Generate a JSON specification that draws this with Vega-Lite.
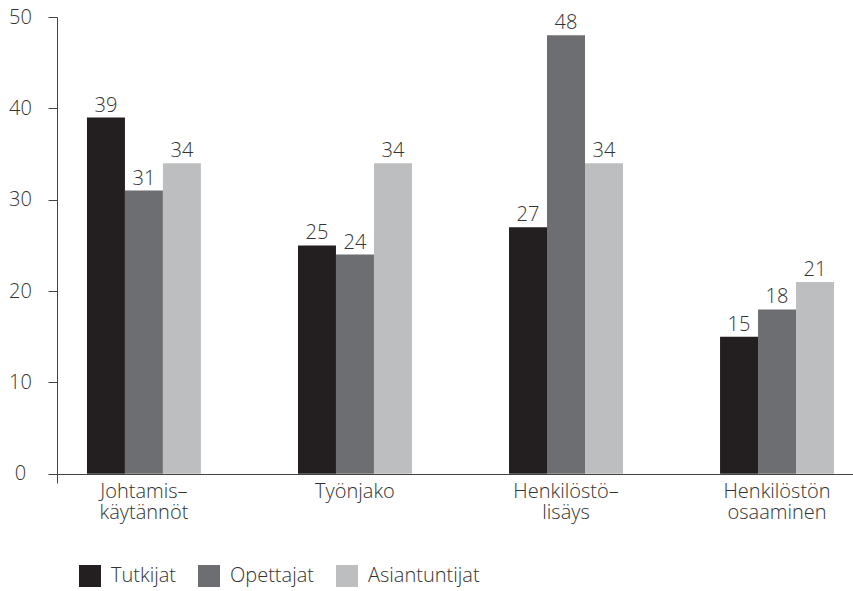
{
  "$schema": "https://vega.github.io/schema/vega-lite/v6.json",
  "width": 796,
  "height": 466,
  "autosize": {"type": "none"},
  "padding": {"left": 57, "top": 17, "right": 0, "bottom": 108},
  "background": "white",
  "config": {
    "font": "Open Sans",
    "view": {"stroke": null},
    "axis": {"labelFont": "Open Sans", "labelFontWeight": 300, "labelColor": "#333333", "labelFontSize": 20}
  },
  "data": {
    "values": [
      {"kategoria": "Johtamis–käytännöt", "ryhmä": "Tutkijat", "arvo": 39},
      {"kategoria": "Johtamis–käytännöt", "ryhmä": "Opettajat", "arvo": 31},
      {"kategoria": "Johtamis–käytännöt", "ryhmä": "Asiantuntijat", "arvo": 34},
      {"kategoria": "Työnjako", "ryhmä": "Tutkijat", "arvo": 25},
      {"kategoria": "Työnjako", "ryhmä": "Opettajat", "arvo": 24},
      {"kategoria": "Työnjako", "ryhmä": "Asiantuntijat", "arvo": 34},
      {"kategoria": "Henkilöstö–lisäys", "ryhmä": "Tutkijat", "arvo": 27},
      {"kategoria": "Henkilöstö–lisäys", "ryhmä": "Opettajat", "arvo": 48},
      {"kategoria": "Henkilöstö–lisäys", "ryhmä": "Asiantuntijat", "arvo": 34},
      {"kategoria": "Henkilöstön osaaminen", "ryhmä": "Tutkijat", "arvo": 15},
      {"kategoria": "Henkilöstön osaaminen", "ryhmä": "Opettajat", "arvo": 18},
      {"kategoria": "Henkilöstön osaaminen", "ryhmä": "Asiantuntijat", "arvo": 21}
    ]
  },
  "encoding": {
    "x": {
      "field": "kategoria",
      "type": "nominal",
      "sort": null,
      "scale": {"paddingInner": 0.46, "paddingOuter": 0.116, "align": 0.612},
      "axis": {
        "title": null,
        "orient": "bottom",
        "offset": -9,
        "ticks": false,
        "domainColor": "#444444",
        "domainWidth": 1,
        "labelAngle": 0,
        "labelBaseline": "top",
        "labelPadding": 7,
        "labelLineHeight": 21,
        "labelExpr": "split(replace(replace(datum.label, '–', '–|'), ' ', '|'), '|')"
      }
    },
    "xOffset": {
      "field": "ryhmä",
      "type": "nominal",
      "sort": ["Tutkijat", "Opettajat", "Asiantuntijat"],
      "scale": {"paddingInner": 0, "paddingOuter": 0}
    },
    "y": {
      "field": "arvo",
      "type": "quantitative",
      "scale": {"domain": [-1, 50], "nice": false, "zero": false},
      "axis": {
        "title": null,
        "values": [0, 10, 20, 30, 40, 50],
        "grid": false,
        "tickSize": 9,
        "tickColor": "#444444",
        "domainColor": "#444444",
        "labelAlign": "center",
        "labelBaseline": "middle",
        "labelPadding": 28
      }
    }
  },
  "layer": [
    {
      "mark": {"type": "bar"},
      "encoding": {
        "y2": {"datum": 0},
        "color": {
          "field": "ryhmä",
          "type": "nominal",
          "sort": ["Tutkijat", "Opettajat", "Asiantuntijat"],
          "scale": {
            "domain": ["Tutkijat", "Opettajat", "Asiantuntijat"],
            "range": ["#231f20", "#6d6e71", "#bcbec0"]
          },
          "legend": {
            "title": null,
            "orient": "none",
            "direction": "horizontal",
            "legendX": 22,
            "legendY": 548,
            "symbolType": "square",
            "symbolSize": 484,
            "symbolStrokeWidth": 0,
            "symbolOpacity": 1,
            "labelFont": "Open Sans",
            "labelFontWeight": 300,
            "labelFontSize": 20,
            "labelColor": "#333333",
            "labelOffset": 10,
            "columnPadding": 22
          }
        }
      }
    },
    {
      "mark": {
        "type": "text",
        "baseline": "alphabetic",
        "dy": -6,
        "font": "Open Sans",
        "fontWeight": 300,
        "fontSize": 20,
        "color": "#333333"
      },
      "encoding": {
        "text": {"field": "arvo", "type": "quantitative"}
      }
    }
  ]
}
